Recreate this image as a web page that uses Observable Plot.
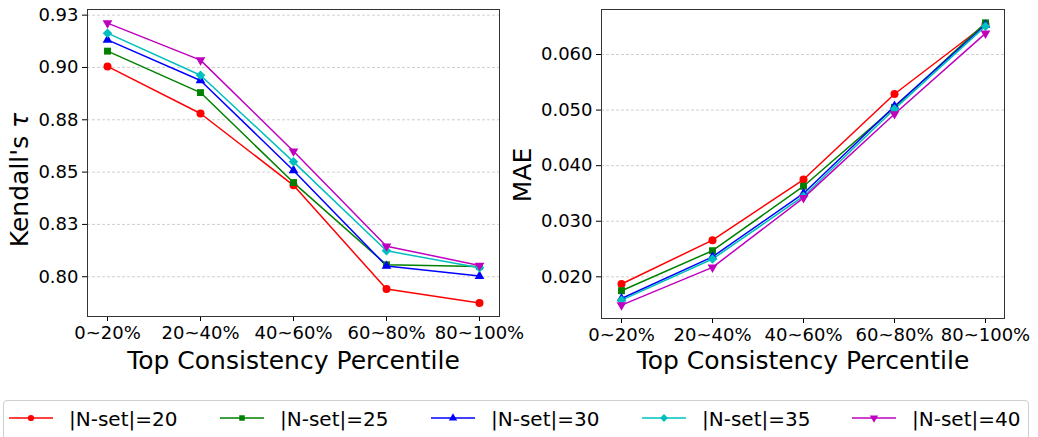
<!DOCTYPE html>
<html>
<head>
<meta charset="utf-8">
<script src="https://cdn.jsdelivr.net/npm/d3@7"></script>
<script src="https://cdn.jsdelivr.net/npm/@observablehq/plot@0.6"></script>
<style>
  html, body { margin: 0; padding: 0; background: #fff; overflow: hidden; }
  #root { position: relative; width: 1038px; height: 437px; font-family: "DejaVu Sans", sans-serif; background: #fff; }
  .panel { position: absolute; top: 0; }
  #legend { position: absolute; left: 3px; top: 400px; width: 1026px; height: 44px; border: 1px solid #cfcfcf; border-radius: 4px; box-sizing: border-box; background: #fff; }
  .entry { position: absolute; top: 0; height: 36px; }
  .entry span { position: absolute; top: 6px; font-size: 20px; white-space: nowrap; color: #000; }
</style>
</head>
<body>
<div id="root">
  <div id="left" class="panel" style="left:0px"></div>
  <div id="right" class="panel" style="left:505px"></div>
  <div id="legend"></div>
</div>
<script>
// ---- data ----
const categories = ["0~20%", "20~40%", "40~60%", "60~80%", "80~100%"];
const seriesNames = ["|N-set|=20", "|N-set|=25", "|N-set|=30", "|N-set|=35", "|N-set|=40"];

// Kendall's tau
const kendall20 = [0.9005, 0.8780, 0.8437, 0.7941, 0.7874];
const kendall25 = [0.9078, 0.8880, 0.8450, 0.8057, 0.8049];
const kendall30 = [0.9132, 0.8938, 0.8508, 0.8051, 0.8003];
const kendall35 = [0.9164, 0.8963, 0.8549, 0.8124, 0.8043];
const kendall40 = [0.9212, 0.9035, 0.8600, 0.8146, 0.8054];

// MAE
const mae20 = [0.0187, 0.0266, 0.0375, 0.0529, 0.0654];
const mae25 = [0.0175, 0.0247, 0.0363, 0.0505, 0.0657];
const mae30 = [0.0161, 0.0236, 0.0350, 0.0507, 0.0653];
const mae35 = [0.0158, 0.0232, 0.0345, 0.0502, 0.0651];
const mae40 = [0.0149, 0.0217, 0.0342, 0.0493, 0.0638];

const kendallTicks = [0.800, 0.825, 0.850, 0.875, 0.900, 0.925];
const kendallTickLabels = ["0.80", "0.83", "0.85", "0.88", "0.90", "0.93"];
const maeTicks = [0.020, 0.030, 0.040, 0.050, 0.060];
const maeTickLabels = ["0.020", "0.030", "0.040", "0.050", "0.060"];

const colors = ["#ff0000", "#008000", "#0000ff", "#00bfbf", "#bf00bf"];
const symbols = ["circle", "square", "triangle", "square", "triangle"];
const rotations = [0, 0, 0, 45, 180];
const radii = [4.0, 3.9, 3.6, 3.8, 3.6];

function buildTable(valueArrays) {
  const rows = [];
  seriesNames.forEach((s, i) => {
    valueArrays[i].forEach((v, j) => rows.push({series: s, cat: categories[j], v}));
  });
  return rows;
}

function panel(opts) {
  const data = buildTable(opts.values);
  const marks = [
    Plot.gridY(opts.ticks, {stroke: "#b0b0b0", strokeOpacity: 0.75, strokeDasharray: "3,2", strokeWidth: 0.8}),
    Plot.axisY(opts.ticks, {tickFormat: d => opts.tickLabels[opts.ticks.indexOf(d)], tickSize: 5, tickPadding: 4, fontSize: 18, label: null}),
    Plot.axisX({tickSize: 5, tickPadding: 5, fontSize: 18, label: null}),
    Plot.text(["Top Consistency Percentile"], {frameAnchor: "bottom", dy: opts.xLabelDy, fontSize: 25, fill: "#000"})
  ];
  seriesNames.forEach((s, i) => {
    const rows = data.filter(d => d.series === s);
    marks.push(Plot.line(rows, {x: "cat", y: "v", stroke: colors[i], strokeWidth: 1.5}));
  });
  seriesNames.forEach((s, i) => {
    const rows = data.filter(d => d.series === s);
    marks.push(Plot.dot(rows, {x: "cat", y: "v", symbol: symbols[i], rotate: rotations[i], fill: colors[i], stroke: "none", r: radii[i]}));
  });
  marks.push(Plot.frame({stroke: "#333", strokeWidth: 1}));
  const svg = Plot.plot({
    width: opts.width,
    height: 380,
    marginLeft: opts.marginLeft,
    marginRight: opts.marginRight,
    marginTop: 9,
    marginBottom: opts.marginBottom,
    style: {fontFamily: "DejaVu Sans", fontSize: "18px", color: "#000", background: "transparent", overflow: "visible"},
    x: {type: "point", domain: categories, padding: 0.2},
    y: {domain: opts.yDomain},
    marks
  });
  // rotated y-axis title
  const t = d3.select(svg).append("text")
    .attr("transform", `translate(${opts.yLabelX},${opts.yLabelY}) rotate(-90)`)
    .attr("text-anchor", "middle")
    .attr("font-size", 25)
    .attr("font-family", "DejaVu Sans")
    .attr("fill", "#000");
  opts.yLabel(t);
  return svg;
}

document.getElementById("left").appendChild(panel({
  values: [kendall20, kendall25, kendall30, kendall35, kendall40],
  ticks: kendallTicks, tickLabels: kendallTickLabels,
  yDomain: [0.781, 0.9277],
  width: 505, marginLeft: 87, marginRight: 6, marginBottom: 64,
  xLabelDy: 52,
  yLabelX: 28, yLabelY: 180,
  yLabel: t => { t.append("tspan").text("Kendall's "); t.append("tspan").attr("font-style", "italic").text("τ"); }
}));

document.getElementById("right").appendChild(panel({
  values: [mae20, mae25, mae30, mae35, mae40],
  ticks: maeTicks, tickLabels: maeTickLabels,
  yDomain: [0.0125, 0.0681],
  width: 533, marginLeft: 96, marginRight: 34, marginBottom: 62,
  xLabelDy: 50,
  yLabelX: 26, yLabelY: 175,
  yLabel: t => t.text("MAE")
}));

// legend
const legend = d3.select("#legend");
const entryX = [5, 216, 427, 638, 848];
seriesNames.forEach((s, i) => {
  const e = legend.append("div").attr("class", "entry").style("left", entryX[i] + "px").style("width", "200px");
  const sv = e.append("svg").attr("width", 50).attr("height", 36).style("position", "absolute").style("left", "0px").style("top", "0px");
  sv.append("line").attr("x1", 0).attr("x2", 44).attr("y1", 17).attr("y2", 17).attr("stroke", colors[i]).attr("stroke-width", 1.5);
  const sym = d3.symbol().type({circle: d3.symbolCircle, square: d3.symbolSquare, triangle: d3.symbolTriangle}[symbols[i]]).size(Math.PI * 3.1 * 3.1);
  sv.append("path").attr("d", sym()).attr("fill", colors[i]).attr("transform", `translate(22,17) rotate(${rotations[i]})`);
  e.append("span").style("left", "60px").text(s);
});
</script>
</body>
</html>
